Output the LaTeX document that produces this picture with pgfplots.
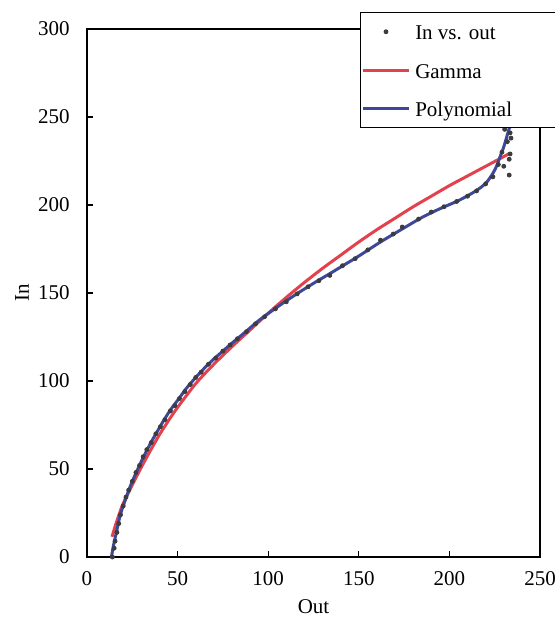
\documentclass[border=0pt]{standalone}
\usepackage{pgfplots}
\pgfplotsset{compat=1.18}
\usepackage{fontspec}
\setmainfont{Liberation Serif}
\definecolor{gred}{RGB}{226,66,78}
\definecolor{pblue}{RGB}{62,72,155}
\definecolor{dgray}{RGB}{60,60,60}
\begin{document}
\fontsize{10.5}{12.6}\selectfont
\begin{tikzpicture}
\begin{axis}[name=ax, scale only axis, width=226.5pt, height=264pt,
  xmin=0, xmax=250, ymin=0, ymax=300,
  xtick={0,50,...,250}, ytick={0,50,...,300},
  tick align=inside, xtick pos=bottom, ytick pos=left,
  major tick length=3pt,
  axis line style={line width=0.6pt},
  every tick/.style={black, line width=0.6pt},
  /pgf/number format/assume math mode=true,
  ticklabel style={font=\fontsize{10.5}{12.6}\selectfont},
  yticklabel style={xshift=-5pt},
  xticklabel style={yshift=-3.5pt},
  label style={font=\fontsize{10.5}{12.6}\selectfont},
  xlabel={Out}, ylabel={In},
  xlabel style={at={(axis description cs:0.5,-0.0947)}, anchor=center},
  ylabel style={at={(axis description cs:-0.1435,0.5)}, anchor=center},
  legend style={at={(axis description cs:0.6026,1.0322)}, anchor=north west,
    draw=black, line width=0.75pt, fill=white, inner xsep=0.5pt, inner ysep=2.5pt,
    row sep=5.25pt, column sep=0.5pt, font=\fontsize{10.5}{12.6}\selectfont,
    nodes={inner sep=2pt, text height=9pt, text depth=1pt}},
  legend cell align=left,
  legend image code/.code={\draw[mark repeat=2,mark phase=2,#1] plot coordinates {(0cm,0cm) (0.4cm,0cm) (0.8cm,0cm)};},
]
\addlegendimage{only marks, mark=*, mark size=1pt, dgray, line width=0.4pt}
\addlegendentry{\makebox[75pt][l]{In vs. out}}
\addlegendimage{gred, line width=1.5pt}
\addlegendentry{\makebox[75pt][l]{Gamma}}
\addlegendimage{pblue, line width=1.5pt}
\addlegendentry{\makebox[75pt][l]{Polynomial}}

% Gamma fit
\addplot[gred, line width=1.5pt, smooth, forget plot] coordinates {
(13.8,11.5) (16,19) (18,25) (20,30.5) (25,41) (30,51) (35,60.5) (40,69.5)
(45,77.5) (50,85) (60,98.5) (70,109.5) (80,119.5) (90,129) (100,138.5) (110,147.5)
(120,156) (130,164) (140,171.5) (150,179) (160,186) (170,192.5) (180,199)
(190,205) (200,211) (210,216.5) (220,222) (230,227.5) (233.5,229.5)
};

% Polynomial fit
\addplot[pblue, line width=1.5pt, smooth, forget plot] coordinates {
(13.5,0) (14.5,6) (16,13) (18.4,24) (21,32) (24,40.5) (27.6,49) (31,56.5)
(35,64.5) (38.6,71) (42,77) (46,83.5) (50,89) (55,96) (60,102) (65,107.5)
(70,112.5) (75,117) (80,121.5) (87,127.5) (95,134.5) (105,142) (115,149)
(125,155.5) (134,161) (142,166) (150,171) (162,179) (175,187) (185,193)
(195,198) (205,202.5) (213,207) (218,210.5) (221,213.5) (224,218) (226,222)
(228,227.5) (230,233) (232,240) (234,247) (235.5,253)
};

% Data
\addplot[only marks, mark=*, mark size=1pt, dgray, forget plot] coordinates {
(14,0) (15,5) (15.5,9) (16.5,14) (17.5,19) (18.5,24) (20,29) (21.5,34)
(23,38) (25,43) (27,48) (29,52) (31,57) (33,61) (35.5,65) (38,70) (40.5,74)
(43,78) (46,83) (48.5,86) (51,90) (54,94) (57,98) (60,102) (63,105)
(67,109.5) (71,113) (75,117) (79,120.5) (83,124) (88,128) (93,132.5)
(98,136.5) (104,141) (110,145) (116,149.5) (122,153.5) (128,157) (134,160)
(141,165.5) (148,169.5) (155,174.5) (162,180) (169,183.5) (174,187.5)
(183,192) (190,196) (197,199) (204,202) (210,205) (215,208) (220,212)
(224,216) (227,223) (229,230) (230.5,243) (234,238) (233.5,229) (233,226)
(230,222) (233,217) (232,236) (233.5,241) (234,245)
};
\end{axis}
\pgfresetboundingbox
\path[use as bounding box] ([shift={(-43.5pt,-31.5pt)}]ax.south west) rectangle ([shift={(234pt,278.5pt)}]ax.south west);
\end{tikzpicture}
\end{document}
